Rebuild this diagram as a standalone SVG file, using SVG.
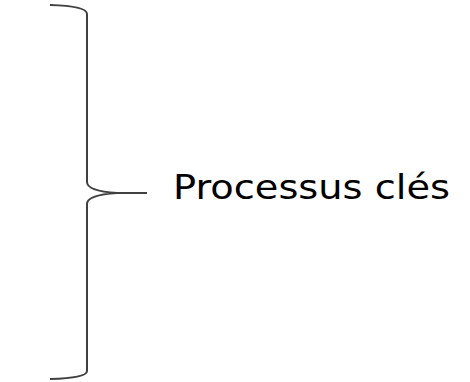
<svg xmlns="http://www.w3.org/2000/svg" width="470" height="382" viewBox="0 0 470 382">
  <style>
    .brace { fill: none; stroke: #404040; stroke-width: 2; }
    .label { font-family: "DejaVu Sans", "Lato", sans-serif; font-size: 33px; fill: #000; }
  </style>
  <rect width="470" height="382" fill="#fff"/>
  <g id="connectors">
    <path class="brace" d="M 50 5 Q 87 6 87 14 L 87 182 Q 87 191 117 193 L 147 193 M 117 193 Q 87 195 87 204 L 87 371 Q 87 378 50 379"/>
  </g>
  <g id="node-processus">
    <text class="label" x="173" y="199" textLength="277" lengthAdjust="spacingAndGlyphs">Processus clés</text>
  </g>
</svg>
